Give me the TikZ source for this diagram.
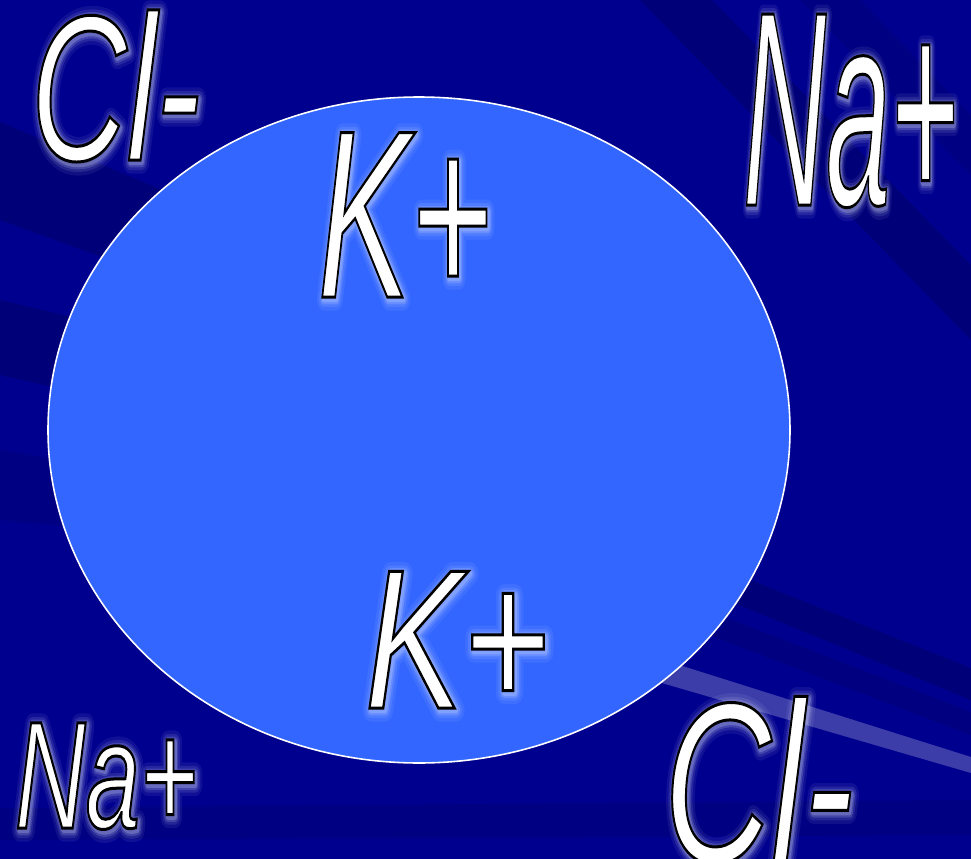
\documentclass[tikz,border=0pt]{standalone}
\usepackage{fontspec}
\setmainfont{Liberation Sans}
\usepackage{graphicx}
\usepackage{tikz}
\definecolor{slidebg} {RGB}{0,0,143}
\definecolor{cellblue}{RGB}{51,102,255}
\newcommand\ionfont[1]{\fontsize{#1}{#1}\selectfont\itshape}
%% squeezed white label: soft glow, black outline, white fill
\newcommand\ionglow[3]{% width, opacity, text
  \rlap{\kern1.2pt\raisebox{-1.2pt}{\pgfsetstrokeopacity{#2}%
    \special{pdf:literal direct 1 Tr 1 j #1 w 0.9 0.92 1 RG}#3}}}
\newcommand\iontext[2]{%
  \scalebox{#1}[1]{%
    \ionglow{13}{0.07}{#2}\ionglow{9}{0.1}{#2}%
    \ionglow{6}{0.16}{#2}\ionglow{3.5}{0.22}{#2}%
    \pgfsetstrokeopacity{1}%
    \special{pdf:literal direct 2 Tr 0 j 1.7 w 0 0 0 RG}#2%
    \special{pdf:literal direct 0 Tr}}}
\tikzset{
  slide/.style    ={fill=slidebg},
  darkband/.style ={fill=black, opacity=0.15},
  lightband/.style={fill=white, opacity=0.24},
  cellline/.style ={draw=white, fill=cellblue, line width=0.9pt},
  ion/.style      ={anchor=base west, inner sep=0pt, outer sep=0pt,
                    text=white},
}
\begin{document}
\begin{tikzpicture}[x=0.02cm,y=-0.02cm]
  \fill[slide] (0,0) rectangle (971,859);
  \useasboundingbox (0,0) rectangle (971,859);
  %% rays of the slide background
  \fill[darkband] (0,122) -- (420,298) -- (420,372) -- (0,220) -- cycle;
  \fill[darkband] (0,300) -- (420,400) -- (420,470) -- (0,375) -- cycle;
  \fill[darkband, opacity=0.08] (0,450) -- (420,520) -- (420,560) -- (0,520) -- cycle;
  \fill[darkband] (640,0) -- (712,0) -- (971,265) -- (971,340) -- cycle;
  \fill[darkband, opacity=0.08] (800,0) -- (860,0) -- (971,115) -- (971,175) -- cycle;
  \fill[darkband] (700,560) -- (971,668) -- (971,700) -- (690,585) -- cycle;
  \fill[darkband, opacity=0.1] (680,600) -- (971,712) -- (971,735) -- (670,620) -- cycle;
  \fill[darkband, opacity=0.08] (0,808) -- (971,800) -- (971,835) -- (0,840) -- cycle;
  \fill[lightband] (600,640) -- (971,757) -- (971,773) -- (600,665) -- cycle;
  %% the cell
  \draw[cellline] (419,430) ellipse [x radius=371, y radius=333];
  %% ions
  \node[ion, font=\ionfont{118}] (clTop) at (31,160) {\iontext{0.64}{Cl-}};
  \node[ion, font=\ionfont{158}] (naTop) at (743,205) {\iontext{0.415}{Na+}};
  \node[ion, font=\ionfont{136}] (kUp)   at (318,297) {\iontext{0.58}{K+}};
  \node[ion, font=\ionfont{113}] (kLow)  at (365,708) {\iontext{0.74}{K+}};
  \node[ion, font=\ionfont{87}]  (naBot) at (15,828)  {\iontext{0.64}{Na+}};
  \node[ion, font=\ionfont{130}] (clBot) at (664,862) {\iontext{0.65}{Cl-}};
\end{tikzpicture}
\end{document}
